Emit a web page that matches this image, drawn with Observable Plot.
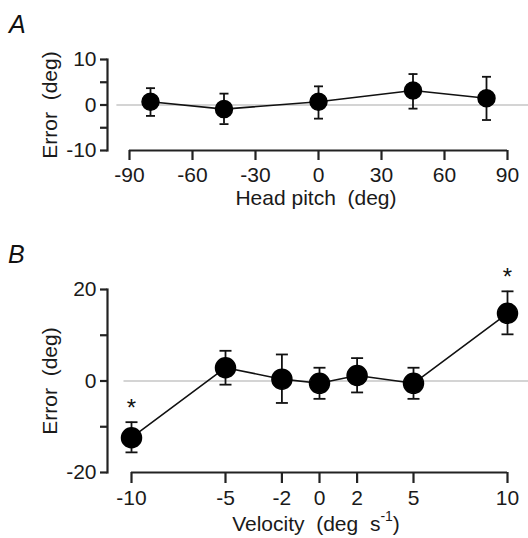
<!DOCTYPE html>
<html>
<head>
<meta charset="utf-8">
<script src="https://cdn.jsdelivr.net/npm/d3@7"></script>
<script src="https://cdn.jsdelivr.net/npm/@observablehq/plot@0.6"></script>
<style>
  html, body { margin: 0; padding: 0; background: #fff; }
  #root { position: relative; width: 528px; height: 538px; overflow: hidden; font-family: "Liberation Sans", Arial, sans-serif; }
  .panel { position: absolute; left: 0; }
  .letter { position: absolute; font-style: italic; font-size: 25px; color: #111; line-height: 1; }
  .xtitle { position: absolute; left: 0; width: 528px; text-align: center; font-size: 21px; color: #1a1a1a; line-height: 1; }
  .xtitle sup { font-size: 14px; position: relative; top: -2px; }
</style>
</head>
<body>
<div id="root">
  <div class="letter" style="left:9px;top:12px;">A</div>
  <div class="letter" style="left:8px;top:242px;">B</div>
</div>
<script>
// ---- Panel A data ----
const pitchA = [-80, -45, 0, 45, 80];
const errorA = [0.7, -0.9, 0.7, 3.2, 1.5];
const lowA   = [-2.4, -4.2, -3.0, -0.8, -3.3];
const highA  = [3.7, 2.5, 4.1, 6.8, 6.2];
const xTicksA = [-90, -60, -30, 0, 30, 60, 90];
const yTicksA = [-10, -5, 0, 5, 10];
const yLabelsA = [-10, 0, 10];

// ---- Panel B data ----
const velocityB = [-10, -5, -2, 0, 2, 5, 10];
const errorB = [-12.4, 2.9, 0.4, -0.5, 1.2, -0.5, 14.8];
const lowB   = [-15.6, -0.8, -4.8, -3.9, -2.5, -3.9, 10.2];
const highB  = [-9.0, 6.6, 5.8, 2.9, 5.0, 2.9, 19.6];
const starB  = [true, false, false, false, false, false, true];
const xTicksB = [-10, -5, -2, 0, 2, 5, 10];
const yTicksB = [-20, -10, 0, 10, 20];
const yLabelsB = [-20, 0, 20];

const dataA = pitchA.map((x, i) => ({x, y: errorA[i], lo: lowA[i], hi: highA[i]}));
const dataB = velocityB.map((x, i) => ({x, y: errorB[i], lo: lowB[i], hi: highB[i], star: starB[i]}));

// horizontal-bar symbol for error bar caps
const capSymbol = {
  draw(ctx, size) {
    const w = Math.sqrt(size / Math.PI);
    ctx.moveTo(-w, 0);
    ctx.lineTo(w, 0);
  }
};

const font = {fontFamily: "'Liberation Sans', Arial, sans-serif", fontSize: "21px", color: "#1a1a1a", background: "transparent", overflow: "visible"};

function panel({data, xDomain, xRange, yDomain, xTicks, yTicks, yLabels, height, marginTop, marginBottom,
                zeroFrom, zeroTo, dotR, capR, xTickSize, xTickPad, yLabelOffset, stars}) {
  const marks = [
    Plot.ruleY([0], {x1: zeroFrom, x2: zeroTo, stroke: "#aaa", strokeWidth: 1.2}),
    // y axis line
    Plot.frame({anchor: "left", stroke: "#222", strokeWidth: 2.2}),
    Plot.axisY({ticks: yTicks, tickSize: 7, tickPadding: 4, strokeWidth: 2.2, stroke: "#222",
      tickFormat: d => yLabels.includes(d) ? String(d) : "",
      label: "Error  (deg)", labelAnchor: "center", labelArrow: "none", labelOffset: yLabelOffset}),
    // x axis line (offset spine)
    Plot.ruleY([yDomain[0]], {x1: xDomain[0], x2: xDomain[1], stroke: "#222", strokeWidth: 2.2}),
    Plot.axisX({ticks: xTicks, tickSize: xTickSize, tickPadding: xTickPad, strokeWidth: 2.2, stroke: "#222",
      tickFormat: d => String(d), label: null}),
    Plot.line(data, {x: "x", y: "y", stroke: "#111", strokeWidth: 1.6}),
    Plot.ruleX(data, {x: "x", y1: "lo", y2: "hi", stroke: "#111", strokeWidth: 1.8}),
    Plot.dot(data, {x: "x", y: "lo", symbol: capSymbol, r: capR, stroke: "#111", strokeWidth: 1.8, fill: "none"}),
    Plot.dot(data, {x: "x", y: "hi", symbol: capSymbol, r: capR, stroke: "#111", strokeWidth: 1.8, fill: "none"}),
    Plot.dot(data, {x: "x", y: "y", r: dotR, fill: "#000", stroke: "#000"})
  ];
  if (stars) {
    marks.push(Plot.text(data.filter(d => d.star), {x: "x", y: "hi", text: () => "*", dy: -14,
      fontSize: 24, fill: "#111", lineAnchor: "middle"}));
  }
  return Plot.plot({
    width: 528, height, marginLeft: 107, marginRight: 0, marginTop, marginBottom,
    style: font,
    x: {domain: xDomain, range: xRange},
    y: {domain: yDomain},
    marks
  });
}

const root = document.getElementById("root");

const plotA = panel({
  data: dataA, xDomain: [-90, 90], xRange: [129, 507], yDomain: [-10, 10],
  xTicks: xTicksA, yTicks: yTicksA, yLabels: yLabelsA,
  height: 215, marginTop: 59, marginBottom: 65,
  zeroFrom: -96, zeroTo: 100, dotR: 8.5, capR: 4.5, xTickSize: 10, xTickPad: 7, yLabelOffset: 65
});
plotA.classList.add("panel");
plotA.style.top = "0px";
root.appendChild(plotA);

const plotB = panel({
  data: dataB, xDomain: [-10, 10], xRange: [131, 507], yDomain: [-20, 20],
  xTicks: xTicksB, yTicks: yTicksB, yLabels: yLabelsB,
  height: 298, marginTop: 49, marginBottom: 66,
  zeroFrom: -10.4, zeroTo: 11.2, dotR: 10, capR: 6, xTickSize: 11, xTickPad: 7, yLabelOffset: 65, stars: true
});
plotB.classList.add("panel");
plotB.style.top = "240px";
root.appendChild(plotB);

const tA = document.createElement("div");
tA.className = "xtitle";
tA.style.top = "187px";
tA.style.left = "52px";
tA.innerHTML = "Head pitch&nbsp;&nbsp;(deg)";
root.appendChild(tA);

const tB = document.createElement("div");
tB.className = "xtitle";
tB.style.top = "511px";
tB.style.left = "52px";
tB.innerHTML = "Velocity&nbsp;&nbsp;(deg&nbsp;&nbsp;s<sup>-1</sup>)";
root.appendChild(tB);
</script>
</body>
</html>
